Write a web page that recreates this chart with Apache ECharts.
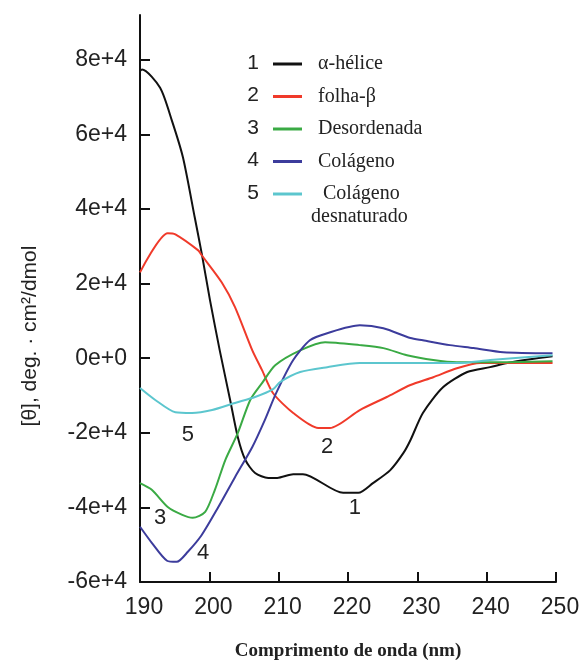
<!DOCTYPE html>
<html>
<head>
<meta charset="utf-8">
<script src="https://cdn.jsdelivr.net/npm/echarts@6/dist/echarts.min.js"></script>
<style>html,body{margin:0;padding:0;background:#fff}#c{width:585px;height:666px}</style>
</head>
<body>
<div id="c"></div>
<script>
// ---- data ----
const seriesNames = ['α-hélice', 'folha-β', 'Desordenada', 'Colágeno', 'Colágeno desnaturado'];
const seriesNumbers = ['1', '2', '3', '4', '5'];
const xTicks = [190, 200, 210, 220, 230, 240, 250];
const yTickValues = [-60000, -40000, -20000, 0, 20000, 40000, 60000, 80000];
const yTickLabels = ['-6e+4', '-4e+4', '-2e+4', '0e+0', '2e+4', '4e+4', '6e+4', '8e+4'];

const helixX = [190, 190.3, 192.9, 194.6, 196.2, 197.9, 198.9, 200.1, 201.5, 203.0, 204.1, 205.2, 206.6, 208.5, 209.8, 212.1, 213.5, 219.3, 221.5, 223.6, 226.1, 228.0, 229.0, 230.8, 233.7, 237.2, 240.5, 243.0, 246.3, 249.5];
const helixY = [77000, 77400, 72500, 63700, 53800, 37700, 28100, 15500, 2100, -11200, -21100, -27300, -30800, -32100, -32100, -31100, -31100, -36100, -36100, -33500, -30000, -25400, -22000, -14700, -7800, -3700, -2400, -1300, -300, 500];

const sheetX = [190, 194.0, 195.1, 198.4, 198.9, 201.8, 203.7, 206.2, 207.6, 209.2, 212.1, 215.7, 217.4, 221.7, 225.6, 229.0, 232.3, 235.7, 239.1, 242.4, 249.5];
const sheetY = [23000, 33500, 33200, 28900, 27600, 20300, 13700, 2100, -3200, -9400, -14700, -18700, -18700, -13900, -10400, -7200, -5100, -2700, -1300, -1300, -1300];

const randomX = [190, 191.7, 194.0, 196.1, 197.6, 199.4, 200.8, 202.3, 204.1, 205.9, 207.6, 209.5, 213.1, 216.7, 221.7, 225.1, 228.5, 232.3, 235.7, 240.5, 249.5];
const randomY = [-33500, -35300, -39900, -42000, -42800, -41200, -35300, -27300, -20100, -11200, -6700, -1900, 2100, 4300, 3500, 2700, 800, -500, -1100, -1100, -800];

const collagenX = [190, 191.7, 193.9, 195.3, 196.9, 198.9, 201.3, 203.7, 206.2, 208.0, 209.6, 212.1, 214.5, 217.0, 221.7, 225.1, 229.0, 230.8, 234.7, 238.1, 242.4, 249.5];
const collagenY = [-45200, -49500, -54300, -54600, -51900, -47400, -39900, -31900, -23800, -16600, -9500, -500, 4800, 6700, 8800, 8000, 5400, 4800, 3500, 2700, 1600, 1300];

const denatX = [190, 192.2, 195.1, 197.5, 200.4, 203.7, 206.6, 209.2, 210.2, 213.1, 217.0, 221.7, 229.0, 235.7, 240.5, 249.5];
const denatY = [-8000, -11200, -14500, -14700, -13900, -12000, -10400, -8300, -6400, -3700, -2400, -1300, -1300, -1300, -500, 800];

// in-plot curve labels [wavelength, value]
const curveLabelPos = [[221.0, -40200], [217.0, -23800], [192.9, -42800], [199.1, -52200], [196.9, -20600]];

const colors = ['#111111', '#f03a2a', '#3aaa44', '#3c3c9c', '#5cc6ce'];
const xs = [helixX, sheetX, randomX, collagenX, denatX];
const ys = [helixY, sheetY, randomY, collagenY, denatY];

const chart = echarts.init(document.getElementById('c'), null, {renderer: 'canvas'});

const series = seriesNames.map((name, i) => ({
  name: name,
  type: 'line',
  data: xs[i].map((x, j) => [x, ys[i][j]]),
  symbol: 'none',
  smooth: 0.25,
  lineStyle: {color: colors[i], width: 2},
  itemStyle: {color: colors[i]},
  z: 3,
  markPoint: {
    symbol: 'circle', symbolSize: 0,
    label: {show: true, position: 'inside', formatter: '{b}', color: '#222',
      fontFamily: 'Liberation Sans', fontSize: 22},
    data: [{name: seriesNumbers[i], coord: curveLabelPos[i]}]
  }
}));

const legendTop = 49;
const rowStep = 32.5;
const graphics = seriesNumbers.map((n, i) => ({
  type: 'text', x: 253, y: 63 + i * rowStep,
  style: {text: n, fill: '#222', font: '21px "Liberation Sans"', align: 'center', verticalAlign: 'middle'}
}));
graphics.push({
  type: 'text', x: 311, y: 63 + 4 * rowStep + 24,
  style: {text: 'desnaturado', fill: '#222', font: '20px "Liberation Serif"', align: 'left', verticalAlign: 'middle'}
});
graphics.push({
  type: 'text', x: 30, y: 336, rotation: Math.PI / 2,
  style: {text: '[θ], deg. · cm²/dmol', fill: '#222', font: '21px "Liberation Sans"', align: 'center', verticalAlign: 'middle'}
});

chart.setOption({
  animation: false,
  backgroundColor: '#fff',
  grid: {left: 140, right: 29, top: 15, bottom: 82},
  legend: {
    show: true, orient: 'vertical', left: 268, top: legendTop,
    itemWidth: 29, itemHeight: 3, itemGap: 12.5, icon: 'rect',
    data: seriesNames,
    formatter: function (name) { return name === 'Colágeno desnaturado' ? ' Colágeno' : name; },
    textStyle: {fontFamily: 'Liberation Serif', fontSize: 20, lineHeight: 20, color: '#222', padding: [0, 0, 0, 11]},
    selectedMode: false
  },
  graphic: graphics,
  xAxis: {
    type: 'value', min: xTicks[0], max: xTicks[xTicks.length - 1], interval: 10,
    name: 'Comprimento de onda (nm)', nameLocation: 'middle', nameGap: 60,
    nameTextStyle: {fontFamily: 'Liberation Serif', fontWeight: 'bold', fontSize: 19, color: '#222'},
    axisLine: {show: true, onZero: false, lineStyle: {color: '#111', width: 2}},
    axisTick: {show: true, inside: true, length: 10, lineStyle: {color: '#111', width: 2}},
    axisLabel: {fontFamily: 'Liberation Sans', fontSize: 23, color: '#222', margin: 14, padding: [0, 0, 0, 8]},
    splitLine: {show: false}
  },
  yAxis: {
    type: 'value', min: -60000, max: 92000,
    axisLine: {show: true, lineStyle: {color: '#111', width: 2}},
    axisTick: {show: true, inside: true, length: 10, customValues: yTickValues, lineStyle: {color: '#111', width: 2}},
    axisLabel: {fontFamily: 'Liberation Sans', fontSize: 23, color: '#222', margin: 13,
      customValues: yTickValues,
      formatter: function (v) { const k = yTickValues.indexOf(v); return k >= 0 ? yTickLabels[k] : ''; }},
    splitLine: {show: false}
  },
  series: series
});
</script>
</body>
</html>
